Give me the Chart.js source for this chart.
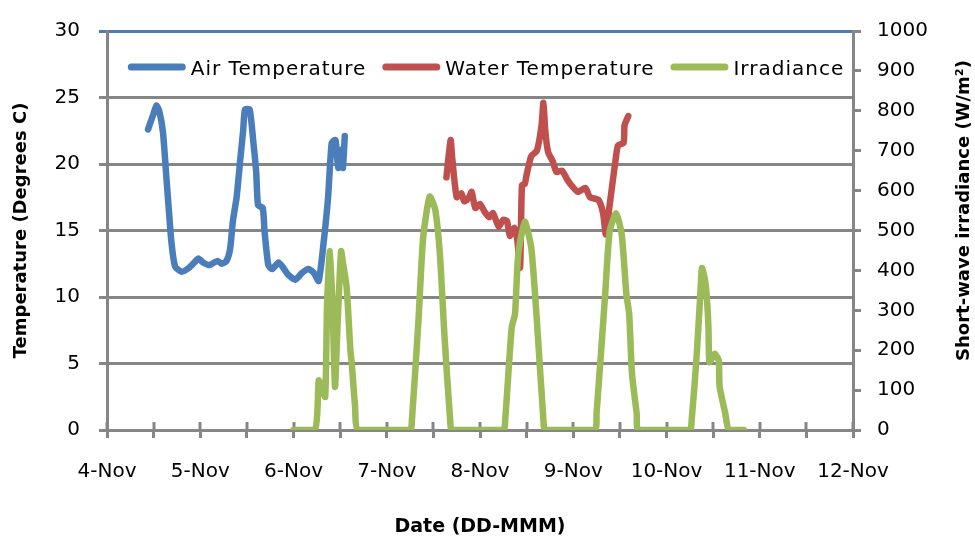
<!DOCTYPE html>
<html>
<head>
<meta charset="utf-8">
<script src="https://cdn.jsdelivr.net/npm/chart.js@4/dist/chart.umd.min.js"></script>
<style>
  html, body { margin: 0; padding: 0; background: #fff; }
  #wrap { width: 975px; height: 538px; }
</style>
</head>
<body>
<div id="wrap"><canvas id="c" width="975" height="538"></canvas></div>
<script>
// Time axis: day of November (fractional days)
const airDays = [4.44, 4.50, 4.53, 4.56, 4.60, 4.64, 4.69, 4.73, 4.80, 4.88, 4.95, 4.98, 5.03, 5.10, 5.15, 5.19, 5.23, 5.28, 5.32, 5.35, 5.39, 5.43, 5.46, 5.48, 5.53, 5.57, 5.60, 5.62, 5.67, 5.69, 5.73, 5.77, 5.84, 5.89, 5.94, 6.02, 6.09, 6.16, 6.22, 6.27, 6.32, 6.37, 6.41, 6.45, 6.48, 6.52, 6.53, 6.55];
const airTemp = [22.6, 23.8, 24.4, 24.0, 22.4, 18.7, 14.2, 12.3, 11.9, 12.2, 12.7, 12.9, 12.6, 12.4, 12.6, 12.7, 12.5, 12.7, 13.6, 15.7, 17.5, 20.4, 22.5, 24.1, 24.1, 21.6, 19.4, 16.9, 16.7, 14.9, 12.4, 12.1, 12.6, 12.2, 11.7, 11.3, 11.8, 12.1, 11.8, 11.2, 13.9, 17.4, 21.6, 21.8, 19.7, 21.1, 19.7, 22.1];

const waterDays = [7.64, 7.685, 7.70, 7.75, 7.80, 7.83, 7.86, 7.89, 7.91, 7.95, 8.00, 8.05, 8.10, 8.14, 8.20, 8.25, 8.29, 8.32, 8.37, 8.40, 8.43, 8.45, 8.48, 8.50, 8.55, 8.61, 8.66, 8.68, 8.70, 8.73, 8.78, 8.82, 8.88, 8.93, 8.98, 9.05, 9.13, 9.18, 9.27, 9.32, 9.35, 9.39, 9.45, 9.48, 9.54, 9.55, 9.59];
const waterTemp = [19.0, 21.8, 20.6, 17.5, 17.8, 17.2, 17.3, 17.6, 17.9, 16.7, 17.0, 16.4, 16.0, 16.3, 15.3, 15.8, 15.7, 14.6, 15.2, 14.3, 12.2, 18.4, 18.5, 19.2, 20.6, 21.0, 22.9, 24.6, 22.5, 20.9, 20.2, 19.4, 19.5, 18.9, 18.4, 17.9, 18.2, 17.5, 17.3, 16.3, 14.7, 16.9, 20.1, 21.4, 21.6, 22.9, 23.6];

const sunDays = [6.00, 6.23, 6.27, 6.30, 6.34, 6.36, 6.39, 6.42, 6.445, 6.47, 6.51, 6.53, 6.57, 6.61, 6.625, 6.66, 6.695,
                 7.25, 7.27, 7.34, 7.39, 7.46, 7.52, 7.57, 7.62, 7.68, 7.70,
                 8.25, 8.27, 8.34, 8.375, 8.41, 8.48, 8.55, 8.61, 8.68, 8.70,
                 9.23, 9.25, 9.34, 9.39, 9.46, 9.52, 9.57, 9.60, 9.63, 9.68, 9.70,
                 10.25, 10.27, 10.32, 10.36, 10.38, 10.41, 10.43, 10.45, 10.46, 10.50, 10.52, 10.56, 10.57, 10.63, 10.67, 10.83];
const irradiance = [0, 0, 124, 110, 83, 315, 448, 300, 108, 250, 448, 420, 357, 200, 166, 60, 0,
                    0, 25, 274, 481, 585, 552, 440, 232, 25, 0,
                    0, 25, 257, 290, 440, 522, 456, 274, 25, 0,
                    0, 42, 332, 497, 543, 489, 340, 290, 141, 42, 0,
                    0, 25, 174, 330, 406, 380, 340, 257, 170, 185, 191, 174, 108, 42, 0, 0];

const seriesNames = ['Air Temperature', 'Water Temperature', 'Irradiance'];
const xTitle = 'Date (DD-MMM)';
const yTitle = 'Temperature (Degrees C)';
const y2Title = 'Short-wave irradiance (W/m\u00B2)';

const FONT = '"DejaVu Sans", sans-serif';
const GRID = '#868686';
const BLUE = '#4A7EBB', RED = '#C0504D', GREEN = '#9BBB59';

Chart.defaults.font.family = FONT;
Chart.defaults.color = '#000';

const pts = (xs, ys) => xs.map((x, i) => ({ x, y: ys[i] }));

function lineSet(label, data, color, axis, order) {
  return {
    label, data, yAxisID: axis, order,
    borderColor: color, backgroundColor: color,
    borderWidth: 6.5, pointRadius: 0, pointHoverRadius: 0,
    tension: 0.2, borderCapStyle: 'round', borderJoinStyle: 'round', fill: false
  };
}

// Legend drawn inside the plot area, one row, line swatches
const insideLegend = {
  id: 'insideLegend',
  afterDatasetsDraw(chart) {
    const { ctx, chartArea } = chart;
    ctx.save();
    ctx.font = '20px ' + FONT;
    ctx.letterSpacing = '1px';
    const sw = 58, gapText = 5, gapItem = 16;
    const items = chart.data.datasets.map(ds => ({ label: ds.label, color: ds.borderColor, w: ctx.measureText(ds.label).width }));
    const total = items.reduce((s, it) => s + sw + gapText + it.w, 0) + gapItem * (items.length - 1);
    let x = (chartArea.left + chartArea.right) / 2 + 6 - total / 2;
    const y = chartArea.top + 39;
    ctx.textBaseline = 'middle';
    ctx.textAlign = 'left';
    items.forEach(it => {
      ctx.strokeStyle = it.color;
      ctx.lineWidth = 7;
      ctx.lineCap = 'round';
      ctx.beginPath();
      ctx.moveTo(x + 3.5, y - 3);
      ctx.lineTo(x + sw - 3.5, y - 3);
      ctx.stroke();
      ctx.fillStyle = '#000';
      ctx.fillText(it.label, x + sw + gapText, y);
      x += sw + gapText + it.w + gapItem;
    });
    ctx.restore();
  }
};

// Right axis title, reading bottom-to-top like the left one
const rightTitle = {
  id: 'rightTitle',
  afterDraw(chart) {
    const { ctx, chartArea } = chart;
    const s = chart.scales.y2;
    ctx.save();
    ctx.font = 'bold 18px ' + FONT;
    ctx.fillStyle = '#000';
    ctx.textAlign = 'center';
    ctx.textBaseline = 'middle';
    ctx.translate(s.right - 11, (chartArea.top + chartArea.bottom) / 2 - 20);
    ctx.rotate(-Math.PI / 2);
    ctx.fillText(y2Title, 0, 0);
    ctx.restore();
  }
};

// Date ticks cross the axis: add the inner half of each tick mark
const crossTicks = {
  id: 'crossTicks',
  beforeDatasetsDraw(chart) {
    const { ctx } = chart;
    const xs = chart.scales.x;
    ctx.save();
    ctx.strokeStyle = GRID;
    ctx.lineWidth = 3;
    xs.ticks.forEach(t => {
      const px = Math.round(xs.getPixelForValue(t.value));
      ctx.beginPath();
      ctx.moveTo(px, xs.top);
      ctx.lineTo(px, xs.top - 8);
      ctx.stroke();
    });
    ctx.restore();
  }
};

new Chart(document.getElementById('c'), {
  type: 'line',
  data: {
    datasets: [
      lineSet(seriesNames[0], pts(airDays, airTemp), BLUE, 'y', 2),
      lineSet(seriesNames[1], pts(waterDays, waterTemp), RED, 'y', 1),
      lineSet(seriesNames[2], pts(sunDays, irradiance), GREEN, 'y2', 0)
    ]
  },
  options: {
    responsive: false,
    animation: false,
    events: [],
    layout: { padding: { top: 28, left: 0, right: 0, bottom: 0 } },
    plugins: { legend: { display: false }, tooltip: { enabled: false } },
    scales: {
      x: {
        type: 'linear', min: 4, max: 12,
        ticks: {
          stepSize: 0.5, autoSkip: false, maxRotation: 0, padding: 22,
          font: { size: 20 },
          callback: v => Number.isInteger(v) ? v + '-Nov' : ''
        },
        grid: { drawOnChartArea: false, tickLength: 8, color: GRID, lineWidth: 3 },
        border: { color: GRID, width: 3 },
        title: { display: true, text: xTitle, font: { size: 19, weight: 'bold' }, padding: { top: 0, bottom: 0 } },
        afterFit: s => { s.height = 108; }
      },
      y: {
        position: 'left', min: 0, max: 30,
        ticks: { stepSize: 5, padding: 19, font: { size: 20 } },
        grid: { color: c => c.tick && c.tick.value === 30 ? BLUE : GRID, lineWidth: 3, tickLength: 8 },
        border: { color: GRID, width: 3 },
        title: { display: true, text: yTitle, font: { size: 18, weight: 'bold' }, padding: { top: 11, bottom: 0 } },
        afterFit: s => { s.width = 107; }
      },
      y2: {
        position: 'right', min: 0, max: 1000,
        ticks: { stepSize: 100, padding: 16, font: { size: 20 }, callback: v => String(v) },
        grid: { drawOnChartArea: false, tickLength: 8, color: GRID, lineWidth: 3 },
        border: { color: GRID, width: 3 },
        afterFit: s => { s.width = 122; }
      }
    }
  },
  plugins: [crossTicks, insideLegend, rightTitle]
});
</script>
</body>
</html>
